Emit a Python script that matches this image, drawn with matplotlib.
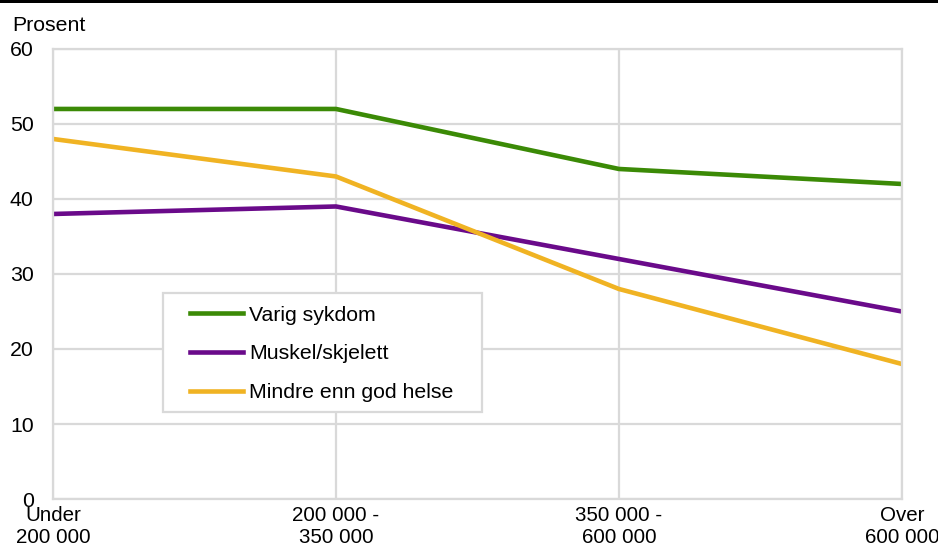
import matplotlib.pyplot as plt
from matplotlib.patches import Rectangle

plt.rcParams['font.family'] = ['Liberation Sans', 'DejaVu Sans']

# Inntektsgrupper og andel (prosent) per helseindikator
kategorier = ['Under\n200 000', '200 000 -\n350 000', '350 000 -\n600 000', 'Over\n600 000']
varig_sykdom = [52, 52, 44, 42]
muskel_skjelett = [38, 39, 32, 25]
mindre_god_helse = [48, 43, 28, 18]

fs = 15.3

fig = plt.figure(figsize=(9.38, 5.5), dpi=100)
ax = fig.add_axes([0.0565, 0.0927, 0.905, 0.8183])

x = range(len(kategorier))
ax.plot(x, varig_sykdom, color='#3b8a06', lw=3.3, label='Varig sykdom')
ax.plot(x, muskel_skjelett, color='#6a0a8a', lw=3.3, label='Muskel/skjelett')
ax.plot(x, mindre_god_helse, color='#f0b323', lw=3.3, label='Mindre enn god helse')

ax.set_xlim(0, 3)
ax.set_ylim(0, 60)
ax.set_yticks(range(0, 61, 10))
ax.set_xticks(list(x))
ax.set_xticklabels(kategorier, fontsize=14.8, linespacing=1.2)
ax.tick_params(axis='y', labelsize=fs, length=0, pad=14)
ax.tick_params(axis='x', length=0, pad=5)

ax.grid(True, color='#d9d9d9', lw=1.6)
ax.set_axisbelow(True)
for s in ax.spines.values():
    s.set_color('#d9d9d9')
    s.set_linewidth(1.6)

fig.text(0.013, 1 - 31 / 550, 'Prosent', fontsize=fs, ha='left', va='baseline')

# tegnforklaring med egen ramme
ax.add_patch(Rectangle((0.1296, 0.1933), 0.3757, 0.2645, transform=ax.transAxes,
                       facecolor='white', edgecolor='#d9d9d9', lw=1.6, zorder=4))
leg = ax.legend(loc='upper left', bbox_to_anchor=(0.1614, 0.429), fontsize=fs,
                frameon=False, handlelength=2.5, handletextpad=0.28,
                labelspacing=0.92, borderpad=0, borderaxespad=0)
leg.set_zorder(5)

# svart strek øverst
fig.add_artist(Rectangle((0, 0.994), 1, 0.006, transform=fig.transFigure, color='black', lw=0))

fig.savefig('out.png', dpi=100)
